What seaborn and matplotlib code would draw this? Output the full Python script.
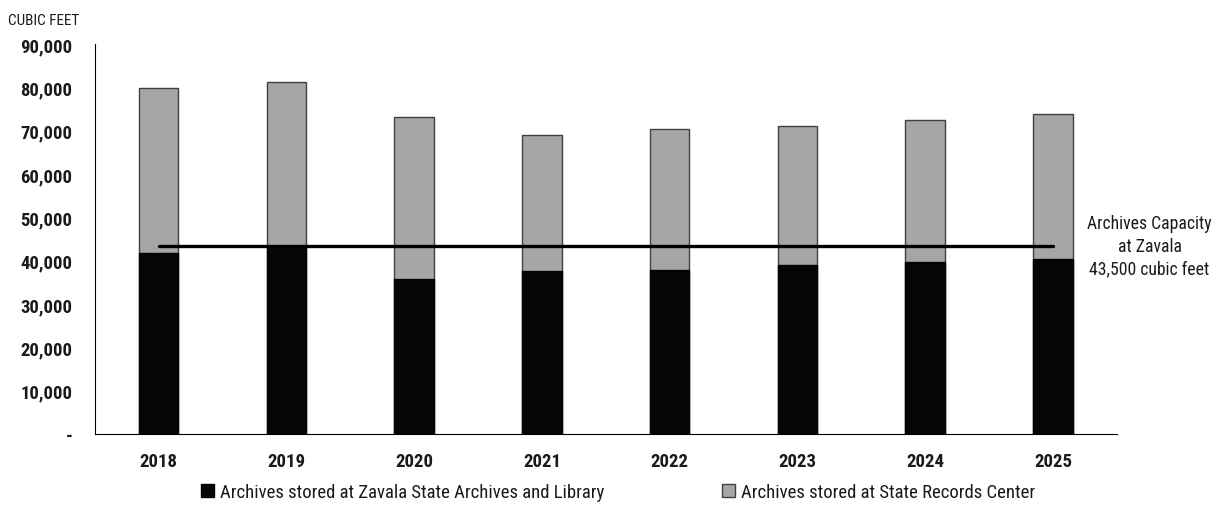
import numpy as np
import pandas as pd
import matplotlib
matplotlib.use('Agg')
import matplotlib.pyplot as plt
import seaborn as sns
from matplotlib.ticker import FuncFormatter, FixedLocator
from matplotlib.patches import Patch
from matplotlib import font_manager

years = ['2018', '2019', '2020', '2021', '2022', '2023', '2024', '2025']
zavala = [41800, 43100, 35800, 37600, 37900, 39000, 39800, 40500]
records_center = [38000, 38100, 37300, 31300, 32600, 32000, 32600, 33400]
capacity = 43500

sns.set_theme(style='white')
names = set(f.name for f in font_manager.fontManager.ttflist)
narrow = [n for n in ['Liberation Sans Narrow', 'Roboto Condensed', 'Open Sans Condensed', 'DejaVu Sans']
          if n in names]
plt.rcParams['font.family'] = narrow + ['DejaVu Sans']
plt.rcParams['font.stretch'] = 'condensed'

df = pd.DataFrame({'year': years, 'zavala': zavala, 'records': records_center})
df['total'] = df['zavala'] + df['records']

fig, ax = plt.subplots(figsize=(12.14, 5.06), dpi=100)
fig.subplots_adjust(left=0.078, right=0.92, top=0.911, bottom=0.14)

sns.barplot(data=df, x='year', y='total', color='#a6a6a6', edgecolor='#404040',
            linewidth=1, width=0.31, saturation=1, ax=ax)
sns.barplot(data=df, x='year', y='zavala', color='#050505', edgecolor='#050505',
            linewidth=1, width=0.31, saturation=1, ax=ax)

# capacity line across the bar centres
ax.plot([0, len(years) - 1], [capacity, capacity], color='black', lw=2.4, zorder=5)
ax.text(1.032, capacity, 'Archives Capacity\nat Zavala\n43,500 cubic feet',
        transform=ax.get_yaxis_transform(), ha='center', va='center',
        fontsize=12.7, linespacing=1.35, color='#1a1a1a')

ax.set_xlim(-0.5, len(years) - 0.5)
ax.set_ylim(0, 90000)
ax.set_yticks(np.arange(0, 90001, 10000))
ax.yaxis.set_major_formatter(FuncFormatter(lambda v, p: '-' if v == 0 else '{:,.0f}'.format(v)))
ax.xaxis.set_minor_locator(FixedLocator(np.arange(-0.5, len(years), 1.0)))
ax.tick_params(axis='x', which='major', length=0, pad=13, labelsize=13.5)
ax.tick_params(axis='x', which='minor', length=6, width=0.8, direction='out', color='black')
ax.tick_params(axis='y', length=6, width=0.8, direction='out', color='black', labelsize=13.4, pad=10)
for lab in ax.get_xticklabels() + ax.get_yticklabels():
    lab.set_fontweight('bold')
    lab.set_color('#1a1a1a')

ax.set_xlabel('')
ax.set_ylabel('')
sns.despine(ax=ax)
for s in ['left', 'bottom']:
    ax.spines[s].set_color('black')
    ax.spines[s].set_linewidth(0.8)

fig.text(0.007, 0.958, 'CUBIC FEET', fontsize=11, ha='left', va='center', color='#1a1a1a')

handles = [Patch(facecolor='#050505', edgecolor='#050505', label='Archives stored at Zavala State Archives and Library'),
           Patch(facecolor='#a6a6a6', edgecolor='#404040', label='Archives stored at State Records Center')]
leg = fig.legend(handles=handles, loc='center', bbox_to_anchor=(0.509, 0.026), ncol=2, frameon=False,
                 fontsize=13.5, handlelength=0.7, handleheight=0.7, handletextpad=0.3, columnspacing=6.3)
for t in leg.get_texts():
    t.set_color('#1a1a1a')

fig.savefig('out.png', dpi=100)
